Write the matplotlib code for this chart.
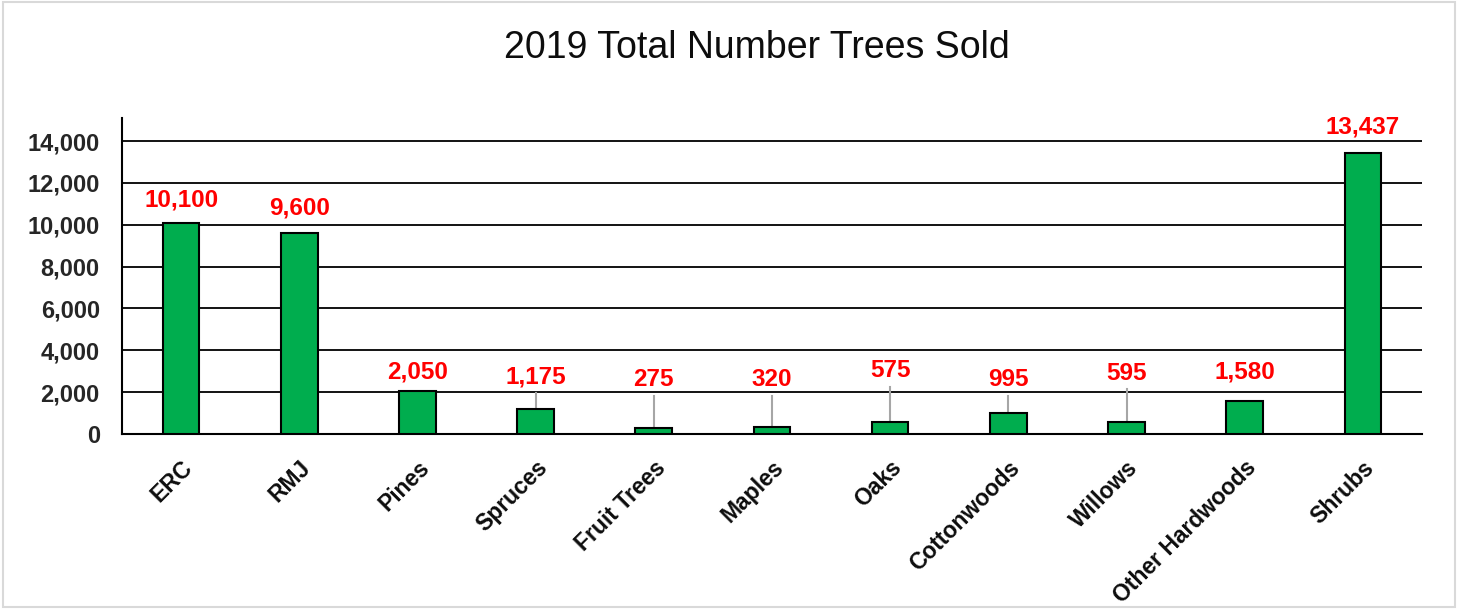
import matplotlib.pyplot as plt
from matplotlib.patches import Rectangle
from matplotlib.ticker import FuncFormatter

plt.rcParams['font.family'] = ['Liberation Sans', 'DejaVu Sans']

# data
categories = ['ERC', 'RMJ', 'Pines', 'Spruces', 'Fruit Trees', 'Maples', 'Oaks',
              'Cottonwoods', 'Willows', 'Other Hardwoods', 'Shrubs']
trees_sold = [10100, 9600, 2050, 1175, 275, 320, 575, 995, 595, 1580, 13437]

# layout: where each value label sits (data units), and which get a leader line
label_y = [11180, 10800, 2960, 2720, 2580, 2580, 3010, 2580, 2910, 2960, 14670]
leader = [False, False, False, True, True, True, True, True, True, False, False]

fig = plt.figure(figsize=(14.61, 6.09), dpi=100)
ax = fig.add_axes([0.0835, 0.2874, 0.8898, 0.5188])

x = range(len(categories))
ax.bar(x, trees_sold, width=0.31, color='#00ad4e', edgecolor='black',
       linewidth=1.5, zorder=3)

for i, (v, ly) in enumerate(zip(trees_sold, label_y)):
    ax.text(i, ly, f'{v:,}', ha='center', va='center', color='#ff0000',
            fontsize=17.5, fontweight='bold', zorder=4)
    if leader[i]:
        ax.plot([i, i], [v, ly - 780], color='#a6a6a6', lw=1.5, zorder=2)

ax.set_xlim(-0.5, len(categories) - 0.5)
ax.set_ylim(0, 15100)
ax.set_yticks(range(0, 14001, 2000))
ax.yaxis.set_major_formatter(FuncFormatter(lambda v, p: f'{int(v):,}'))
ax.grid(axis='y', color='black', linewidth=1.3, zorder=1)
ax.set_axisbelow(True)

for s in ['top', 'right']:
    ax.spines[s].set_visible(False)
ax.spines['left'].set_linewidth(1.5)
ax.spines['bottom'].set_linewidth(1.5)
ax.tick_params(axis='x', length=0, pad=16)
ax.tick_params(axis='y', length=0, pad=16, labelsize=17, labelcolor='#262626')

ax.set_xticks(list(x))
ax.set_xticklabels(categories, rotation=45, ha='right', rotation_mode='anchor',
                   fontsize=16.5, fontweight='bold', color='#0d0d0d')
for lbl in ax.get_yticklabels():
    lbl.set_fontweight('bold')

fig.text(0.518, 0.921, '2019 Total Number Trees Sold', ha='center', va='center',
         fontsize=27, color='#0d0d0d')

fig.patches.append(Rectangle((0.002, 0.003), 0.994, 0.994, transform=fig.transFigure,
                             fill=False, edgecolor='#d9d9d9', linewidth=1.5))

fig.savefig('out.png', dpi=100)
